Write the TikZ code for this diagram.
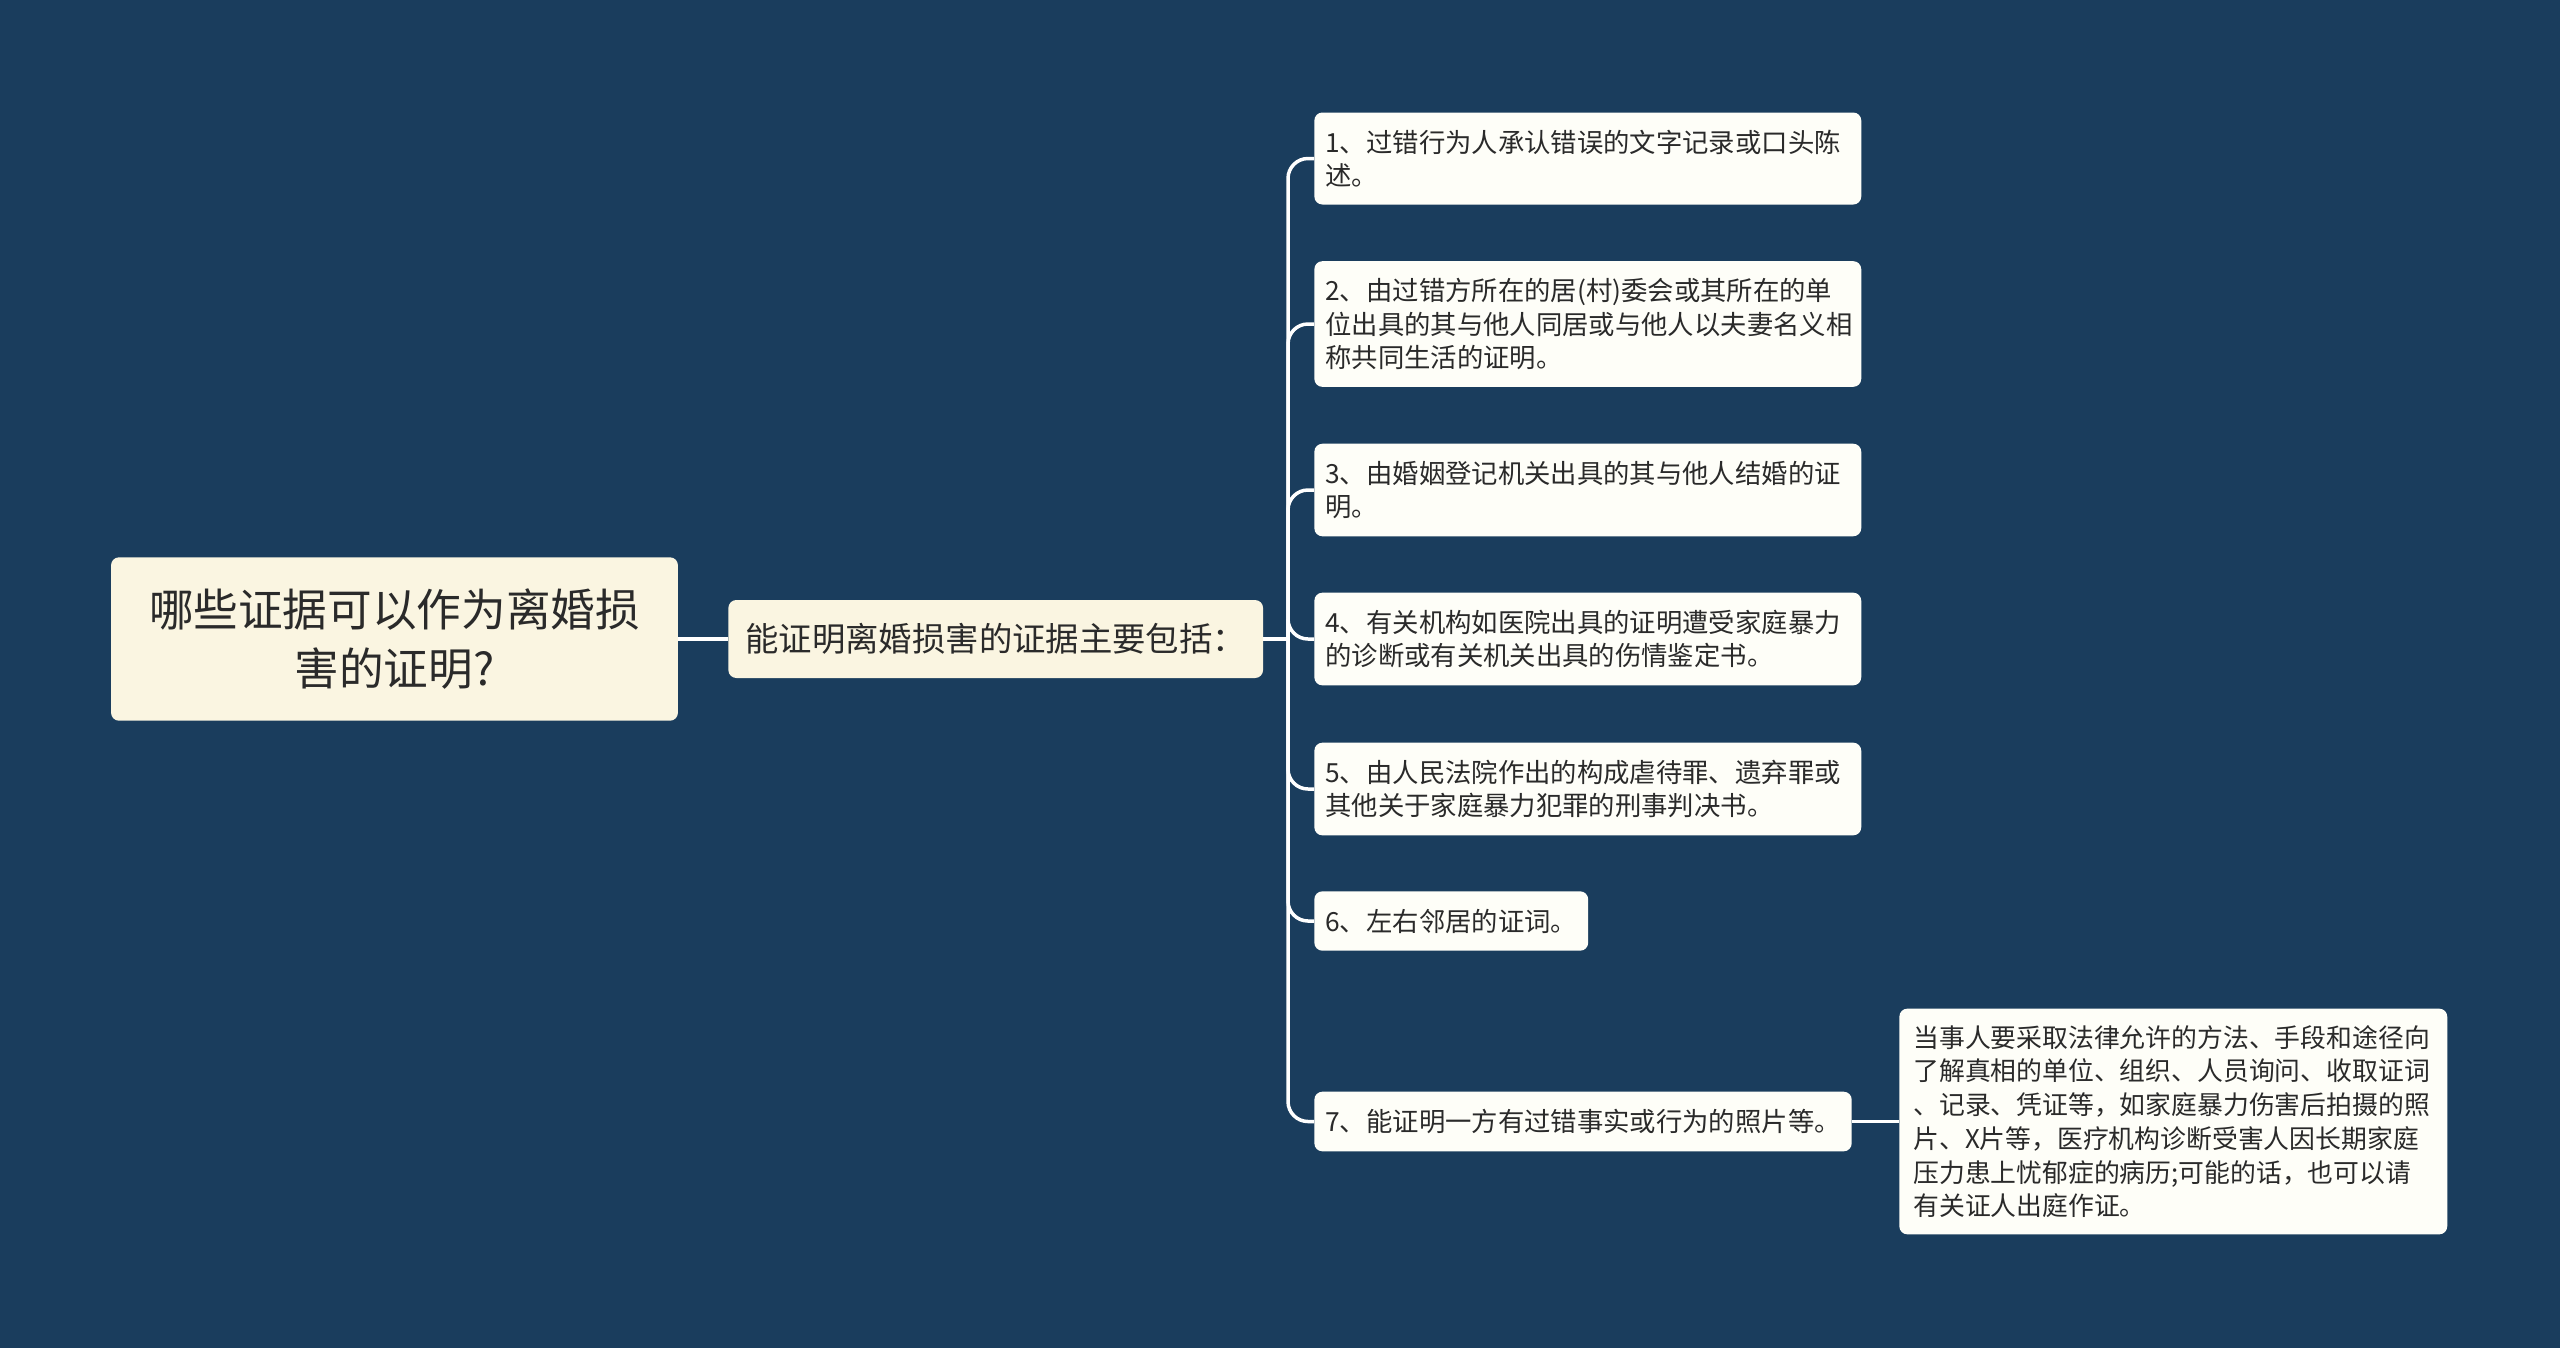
\documentclass[tikz,border=0pt]{standalone}
\usepackage{fontspec}
\setmainfont{Noto Sans CJK SC}
\definecolor{bg}{HTML}{1A3D5D}
\definecolor{cream}{HTML}{FAF5E1}
\definecolor{paper}{HTML}{FEFEF8}
\definecolor{ink}{HTML}{2A2A2A}
\newcommand{\w}{10.5cm}

\begin{document}
\begin{tikzpicture}[x=0.02cm, y=-0.02cm,
    box/.style={rectangle, rounded corners=0.16cm, inner sep=0pt, text=ink, align=left},
    root/.style={box, fill=cream, text width=10.7cm, inner xsep=0.32cm, inner ysep=0.62cm, align=center, font=\fontsize{25.4pt}{34pt}\selectfont},
    topic/.style={box, fill=cream, anchor=west, inner xsep=0.34cm, minimum height=1.56cm, font=\fontsize{19pt}{24pt}\selectfont},
    leaf/.style={box, fill=paper, anchor=west, inner xsep=0.22cm, inner ysep=0.35cm, font=\fontsize{15pt}{18.8pt}\selectfont},
    wide/.style={text width=\w},
    note/.style={leaf, text width=10.4cm, inner xsep=0.28cm, inner ysep=0.33cm, font=\fontsize{14.7pt}{19.2pt}\selectfont},
    link/.style={draw=white, line width=0.07cm, rounded corners=0.4cm}]
    \useasboundingbox (0,0) rectangle (2560,1347);
    \fill[bg] (-20,-20) rectangle (2580,1367);

    % Root and topic
    \node[root] (root) at (394.5,639) {哪些证据可以作为离婚损\\害的证明?};
    \node[topic] (topic) at (728,639) {能证明离婚损害的证据主要包括：};
    \coordinate (hub) at (1288,639);

    % Evidence items
    \node[leaf, wide] (item-1) at (1314,158.5) {1、过错行为人承认错误的文字记录或口头陈\\述。};
    \node[leaf, wide] (item-2) at (1314,324) {2、由过错方所在的居(村)委会或其所在的单\\位出具的其与他人同居或与他人以夫妻名义相\\称共同生活的证明。};
    \node[leaf, wide] (item-3) at (1314,490) {3、由婚姻登记机关出具的其与他人结婚的证\\明。};
    \node[leaf, wide] (item-4) at (1314,639) {4、有关机构如医院出具的证明遭受家庭暴力\\的诊断或有关机关出具的伤情鉴定书。};
    \node[leaf, wide] (item-5) at (1314,789) {5、由人民法院作出的构成虐待罪、遗弃罪或\\其他关于家庭暴力犯罪的刑事判决书。};
    \node[leaf] (item-6) at (1314,921) {6、左右邻居的证词。};
    \node[leaf] (item-7) at (1314,1121.5) {7、能证明一方有过错事实或行为的照片等。};

    \node[note] (note) at (1899,1121.5) {当事人要采取法律允许的方法、手段和途径向\\了解真相的单位、组织、人员询问、收取证词\\、记录、凭证等，如家庭暴力伤害后拍摄的照\\片、X片等，医疗机构诊断受害人因长期家庭\\压力患上忧郁症的病历;可能的话，也可以请\\有关证人出庭作证。};

    % Links
    \draw[link] (root) -- (topic);
    \draw[link] (topic.east) -- (hub);
    \foreach \i in {1,...,7}
        \draw[link] (hub) |- (item-\i.west);
    \draw[link] (item-7) -- (note);

\end{tikzpicture}
\end{document}
